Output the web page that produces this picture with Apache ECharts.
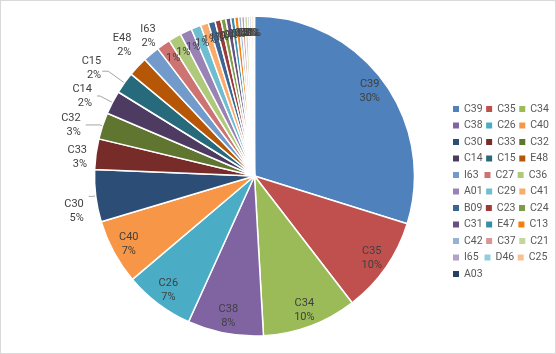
<!DOCTYPE html>
<html>
<head>
<meta charset="utf-8">
<script src="https://cdn.jsdelivr.net/npm/echarts@6/dist/echarts.min.js"></script>
<style>
    html, body { margin: 0; padding: 0; background: #fff; }
    #Chart { width: 556px; height: 354px; box-sizing: border-box; border: 1px solid #d9d9d9; }
</style>
</head>
<body>
<div id="Chart"></div>
<script>
let categories = ["C39", "C35", "C34", "C38", "C26", "C40", "C30", "C33", "C32", "C14", "C15", "E48", "I63", "C27", "C36", "A01",
    "C29", "C41", "B09", "C23", "C24", "C31", "E47", "C13", "C42", "C37", "C21", "I65", "D46", "C25", "A03"]
let values = [300, 98, 96, 77, 71, 66, 53, 31, 27, 24, 22, 20, 17, 14, 13, 12,
    10, 8, 7, 6, 5, 5, 4, 4, 3, 3, 3, 2, 2, 2, 1]

// 标签分组
let insideNamed = ["C39", "C35", "C34", "C38", "C26", "C40"]
let outsideNamed = ["C30", "C33", "C32", "C14", "C15", "E48", "I63"]

let colorList = ['#4f81bd', '#c0504d', '#9bbb59', '#8064a2', '#4bacc6', '#f79646',
    '#2c4d75', '#772c2a', '#5f7530', '#4d3b62', '#276a7c', '#b65708',
    '#729aca', '#cd7371', '#afc97a', '#9983b5', '#6fbdd1', '#f9ab6b',
    '#3a6595', '#9c3a38', '#7d9a47', '#664f82', '#358ea6', '#f57f0e',
    '#95b3d7', '#d99694', '#c3d69b', '#b3a2c7', '#93cddd', '#fac090', '#254061']

// 引导线 [length, length2, 是否显示]
let leaderLines = { C30: [4, 3, true], C33: [3, 1, false], C32: [3, 14, true], C14: [14, 3, true], C15: [20, 6, true], E48: [10, 0, false], I63: [10, 0, false] }
// 标签微调
let labelShift = { C30: { dy: 15 }, C33: { dy: 4 }, C15: { dx: 4, dy: -3 }, E48: { dx: 6, dy: -15 }, I63: { dx: 16, dy: -10 } }

let total = values.reduce((a, b) => a + b, 0)
let pct = v => Math.round(v / total * 100) + "%"

let center = [253.5, 175]
let labelFont = { color: '#404040', fontSize: 11, lineHeight: 14, fontFamily: 'Roboto, sans-serif' }

let chart = echarts.init(document.getElementById("Chart"))

let mainData = categories.map((name, i) => {
    let isOut = outsideNamed.indexOf(name) >= 0
    let ll = leaderLines[name] || [0, 0, false]
    return {
        name: name,
        value: values[i],
        itemStyle: { color: colorList[i] },
        label: { show: isOut },
        labelLine: { show: ll[2], length: ll[0], length2: ll[1] }
    }
})

let ringData = categories.map((name, i) => ({
    name: name,
    value: values[i],
    label: { show: outsideNamed.indexOf(name) < 0 }
}))

let option = {
    animation: false,
    legend: {
        data: categories,
        left: 452,
        top: 101.5,
        width: 100,
        padding: 0,
        itemWidth: 6,
        itemHeight: 6,
        itemGap: 3.5,
        icon: 'rect',
        selectedMode: false,
        itemStyle: { borderWidth: 0 },
        formatter: '{a|{name}}',
        textStyle: {
            color: '#595959', fontSize: 10.5, fontFamily: 'Roboto, sans-serif',
            rich: { a: { width: 17, height: 13, lineHeight: 13, fontSize: 10.5, color: '#595959', fontFamily: 'Roboto, sans-serif' } }
        }
    },
    series: [
        {
            name: 'main',
            type: 'pie',
            center: center,
            radius: [0, 160],
            startAngle: 90,
            avoidLabelOverlap: false,
            emphasis: { disabled: true },
            itemStyle: { borderColor: '#fff', borderWidth: 1.5 },
            label: Object.assign({
                position: 'outside',
                formatter: p => p.name + "\n" + pct(p.value)
            }, labelFont),
            labelLine: { lineStyle: { color: '#a6a6a6', width: 1 }, smooth: false },
            labelLayout: p => Object.assign({ hideOverlap: false }, labelShift[categories[p.dataIndex]] || {}),
            data: mainData
        },
        {
            // 透明圆环，只用来放扇区内部的标签
            name: 'labels',
            type: 'pie',
            center: center,
            radius: [120, 160],
            startAngle: 90,
            silent: true,
            avoidLabelOverlap: false,
            emphasis: { disabled: true },
            itemStyle: { color: 'rgba(0,0,0,0)', borderWidth: 0 },
            label: Object.assign({
                position: 'inside',
                formatter: p => insideNamed.indexOf(p.name) >= 0 ? p.name + "\n" + pct(p.value) : pct(p.value)
            }, labelFont),
            labelLine: { show: false },
            labelLayout: { hideOverlap: false },
            data: ringData
        }
    ]
}

chart.setOption(option)
</script>
</body>
</html>
